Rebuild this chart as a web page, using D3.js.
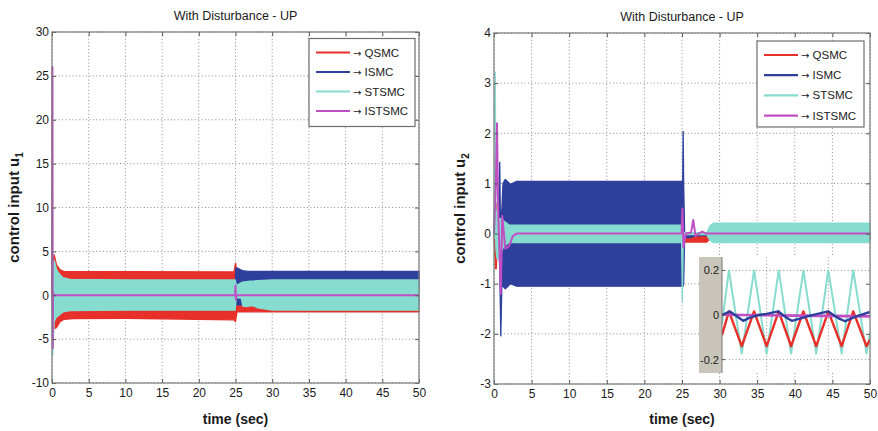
<!DOCTYPE html>
<html>
<head>
<meta charset="utf-8">
<script src="https://cdn.jsdelivr.net/npm/d3@7"></script>
<style>
  body { margin: 0; background: #fff; }
  svg { display: block; font-family: "Liberation Sans", Arial, sans-serif; }
</style>
</head>
<body>
<svg id="chart" width="878" height="431"></svg>
<script>
// ---- series identity ----
const seriesNames  = ["QSMC", "ISMC", "STSMC", "ISTSMC"];
const seriesColors = ["#e8302a", "#2e3f9c", "#86dccf", "#c04fc4"];
const chartTitle   = "With Disturbance - UP";

// ---- tick labels ----
const timeTicks  = [0, 5, 10, 15, 20, 25, 30, 35, 40, 45, 50];
const u1Ticks    = [-10, -5, 0, 5, 10, 15, 20, 25, 30];
const u2Ticks    = [-3, -2, -1, 0, 1, 2, 3, 4];
const insetTicks = [-0.2, 0, 0.2];
const insetGridT = [1.81, 4.31];

// ---- control input u1: chattering envelopes (upper / lower) ----
const u1QsmcT  = [0, 0.15, 0.3, 0.6, 1.1, 1.6, 3, 10, 24.8, 25.0, 25.2, 26, 30, 50];
const u1QsmcHi = [0, 3.8, 4.6, 3.5, 2.9, 2.72, 2.68, 2.68, 2.66, 3.65, 2.6, 2.4, 2.4, 2.4];
const u1QsmcLo = [0, -3.2, -3.8, -3.7, -3.0, -2.75, -2.65, -2.62, -2.8, -3.0, -1.9, -1.88, -1.9, -1.9];

const u1IsmcT  = [0, 0.3, 1, 24.95, 25.05, 25.3, 25.8, 26.0, 26.7, 28, 50];
const u1IsmcHi = [0, 1.2, 1.2, 1.2, 3.1, 3.1, 2.85, 2.8, 2.72, 2.72, 2.72];
const u1IsmcLo = [0, -1.2, -1.2, -1.2, -1.1, -1.1, -1.1, -0.9, -0.9, -0.9, -0.9];

const u1StsmcT  = [0, 0.1, 0.3, 0.6, 0.9, 1.5, 2.5, 10, 24.95, 25.1, 25.3, 25.8, 26.0, 26.5, 27.0, 27.4, 28.0, 30, 35, 50];
const u1StsmcHi = [0, 1.5, 4.0, 3.0, 2.5, 2.0, 1.8, 1.75, 1.74, 1.2, 1.2, 1.45, 1.5, 1.55, 1.6, 1.62, 1.66, 1.74, 1.75, 1.75];
const u1StsmcLo = [0, -6.8, -3.0, -2.5, -2.3, -1.9, -1.75, -1.7, -1.7, -0.3, -0.3, -0.35, -1.25, -1.3, -1.2, -1.18, -1.45, -1.68, -1.7, -1.7];

const u1IstsmcT = [0, 0.06, 0.1, 0.14, 0.3, 24.95, 25.0, 25.05, 25.15, 50];
const u1IstsmcV = [0, 26, -6, 0.3, 0, 0, 1.1, -0.5, 0, 0];

// ---- control input u2 ----
const u2QsmcT  = [0, 0.2, 0.3, 0.4, 0.6, 1.0, 24.9, 25.2, 25.5, 28.3, 28.6, 50];
const u2QsmcHi = [0, 0.6, 0.6, 0.1, 0.15, 0.15, 0.15, 0.0, 0.0, 0.0, 0.02, 0.02];
const u2QsmcLo = [0, -0.7, -0.7, -0.3, -0.15, -0.15, -0.15, -0.17, -0.17, -0.17, -0.12, -0.12];

const u2IsmcT  = [0, 0.4, 0.6, 0.76, 0.85, 0.9, 1.05, 1.2, 1.5, 2.2, 3.0, 24.9, 25.1, 25.15, 25.22, 25.35, 26.0, 27.0, 50];
const u2IsmcHi = [0, 0.1, 0.2, 1.42, 0.3, 0.2, 0.5, 1.0, 1.08, 0.98, 1.04, 1.04, 1.04, 2.04, 1.0, 0.0, 0.0, 0.02, 0.02];
const u2IsmcLo = [0, -0.1, -0.3, -0.6, -1.5, -2.04, -1.0, -1.05, -1.1, -1.0, -1.05, -1.05, -1.05, -1.05, -1.0, -0.08, -0.08, -0.04, -0.04];

const u2StsmcT  = [0, 0.1, 0.17, 0.25, 0.4, 0.6, 0.9, 1.3, 2.0, 24.95, 25.05, 25.15, 25.3, 28.3, 28.7, 29.2, 50];
const u2StsmcHi = [0, 1.5, 3.22, 0.5, 0.3, 0.3, 0.3, 0.25, 0.17, 0.17, 0.17, 0.0, 0.02, 0.02, 0.15, 0.21, 0.21];
const u2StsmcLo = [0, -0.1, 0.5, -0.3, -0.5, -0.5, -0.4, -0.25, -0.18, -0.18, -1.36, -0.3, -0.02, -0.02, -0.13, -0.18, -0.18];

const u2IstsmcT = [0, 0.25, 0.4, 0.55, 0.9, 1.1, 1.5, 2.0, 2.5, 3.0, 24.95, 25.05, 25.2, 25.5, 26.2, 26.5, 26.8, 27.2, 27.7, 28.2, 50];
const u2IstsmcV = [0, 1.0, 2.2, 0.5, -1.2, 0.35, -0.3, -0.25, -0.05, 0, 0, 0.5, -0.27, 0.0, 0.02, 0.27, -0.05, 0.0, 0.04, 0, 0];

// ---- zoomed detail of u2 (steady state) ----
const insetStsmcT = [0, 0.28, 0.8, 1.3, 1.81, 2.3, 2.8, 3.3, 3.82, 4.31, 4.85, 5.32, 5.86, 6.0];
const insetStsmcV = [-0.04, 0.2, -0.173, 0.2, -0.173, 0.2, -0.173, 0.2, -0.173, 0.2, -0.173, 0.2, -0.173, -0.08];
const insetQsmcT  = [0, 0.28, 0.8, 1.3, 1.81, 2.3, 2.8, 3.3, 3.82, 4.31, 4.85, 5.32, 5.86, 6.0];
const insetQsmcV  = [-0.09, 0.016, -0.14, 0.016, -0.14, 0.016, -0.14, 0.016, -0.14, 0.016, -0.14, 0.016, -0.14, -0.11];
const insetIsmcT  = [0, 0.32, 0.6, 0.86, 1.13, 1.47, 1.81, 2.28, 2.62, 2.83, 3.23, 3.57, 4.31, 4.71, 4.99, 5.39, 6.0];
const insetIsmcV  = [0.0, 0.016, -0.006, -0.026, -0.012, 0.0, 0.005, 0.016, -0.012, -0.026, -0.014, -0.003, 0.016, -0.014, -0.028, -0.008, 0.014];
const insetIstsmcT = [0, 3, 6];
const insetIstsmcV = [0.001, -0.003, -0.006];

// ------------------------------------------------------------------
const svg = d3.select("#chart");
const zip3 = (t, hi, lo) => t.map((d, i) => ({ t: d, hi: hi[i], lo: lo[i] }));
const zip2 = (t, v) => t.map((d, i) => ({ t: d, v: v[i] }));

function drawPanel(p) {
  const g = svg.append("g");
  const x = d3.scaleLinear().domain([0, 50]).range([p.x0, p.x1]);
  const y = d3.scaleLinear().domain(p.yDomain).range([p.y1, p.y0]);

  // dotted grid
  const grid = g.append("g").attr("stroke", "#8c8c8c").attr("stroke-width", 1)
    .attr("stroke-dasharray", "1,2.4");
  grid.selectAll(".gx").data(timeTicks).join("line")
    .attr("x1", d => x(d)).attr("x2", d => x(d)).attr("y1", p.y0).attr("y2", p.y1);
  grid.selectAll(".gy").data(p.yTicks).join("line")
    .attr("x1", p.x0).attr("x2", p.x1).attr("y1", d => y(d)).attr("y2", d => y(d));

  // chattering bands
  const area = d3.area().x(d => x(d.t)).y0(d => y(d.lo)).y1(d => y(d.hi));
  p.bands.forEach(b => {
    g.append("path").datum(b.data).attr("d", area)
      .attr("fill", seriesColors[b.s]).attr("stroke", seriesColors[b.s])
      .attr("stroke-width", 1.3).attr("stroke-linejoin", "round");
  });
  // smooth controller trace
  const line = d3.line().x(d => x(d.t)).y(d => y(d.v));
  g.append("path").datum(p.trace).attr("d", line)
    .attr("fill", "none").attr("stroke", seriesColors[3]).attr("stroke-width", 2)
    .attr("stroke-linejoin", "round");

  if (p.inset) p.inset(g);

  // axes with inward ticks on all sides
  const ax = g.append("g").attr("class", "axes");
  const styleAxis = sel => {
    sel.select(".domain").remove();
    sel.selectAll(".tick line").attr("stroke", "#555");
    sel.selectAll(".tick text").attr("fill", "#1a1a1a").attr("font-size", 12)
      .attr("font-family", "Liberation Sans, Arial, sans-serif");
  };
  ax.append("g").attr("transform", `translate(0,${p.y1})`)
    .call(d3.axisBottom(x).tickValues(timeTicks).tickSize(-4).tickPadding(5).tickFormat(d3.format("d")))
    .call(styleAxis);
  ax.append("g").attr("transform", `translate(0,${p.y0})`)
    .call(d3.axisTop(x).tickValues(timeTicks).tickSize(-4).tickFormat(""))
    .call(styleAxis);
  ax.append("g").attr("transform", `translate(${p.x0},0)`)
    .call(d3.axisLeft(y).tickValues(p.yTicks).tickSize(-4).tickPadding(3).tickFormat(d => String(d)))
    .call(styleAxis);
  ax.append("g").attr("transform", `translate(${p.x1},0)`)
    .call(d3.axisRight(y).tickValues(p.yTicks).tickSize(-4).tickFormat(""))
    .call(styleAxis);

  // frame
  g.append("rect").attr("x", p.x0).attr("y", p.y0)
    .attr("width", p.x1 - p.x0).attr("height", p.y1 - p.y0)
    .attr("fill", "none").attr("stroke", "#7a7a7a").attr("stroke-width", 1.2);

  // legend
  const lg = g.append("g").attr("transform", `translate(${p.legend[0]},${p.legend[1]})`);
  lg.append("rect").attr("width", p.legend[2]).attr("height", p.legend[3])
    .attr("fill", "#fff").attr("stroke", "#6f6f6f").attr("stroke-width", 1.2);
  seriesNames.forEach((name, i) => {
    const yy = 14 + i * p.legend[4];
    lg.append("line").attr("x1", 7).attr("x2", 41).attr("y1", yy).attr("y2", yy)
      .attr("stroke", seriesColors[i]).attr("stroke-width", 2.2);
    const t = lg.append("text").attr("x", 44).attr("y", yy + 4).attr("font-size", 11.5)
      .attr("fill", "#1a1a1a");
    t.append("tspan").attr("font-family", "DejaVu Sans, sans-serif").attr("font-size", 10)
      .text("\u2192");
    t.append("tspan").text(" " + name);
  });

  // title and axis labels
  g.append("text").attr("x", (p.x0 + p.x1) / 2).attr("y", p.titleY)
    .attr("text-anchor", "middle").attr("font-size", 12.5).attr("fill", "#1a1a1a")
    .text(chartTitle);
  g.append("text").attr("x", (p.x0 + p.x1) / 2).attr("y", 424)
    .attr("text-anchor", "middle").attr("font-size", 14).attr("font-weight", "bold")
    .attr("fill", "#1a1a1a").text("time (sec)");
  const yl = g.append("text")
    .attr("transform", `translate(${p.ylabelX},${(p.y0 + p.y1) / 2}) rotate(-90)`)
    .attr("text-anchor", "middle").attr("font-size", 15).attr("font-weight", "bold")
    .attr("fill", "#1a1a1a");
  yl.append("tspan").text("control input u");
  yl.append("tspan").attr("dy", 4).attr("font-size", 10).text(p.sub);
}

// ---- left panel: u1 ----
drawPanel({
  x0: 52, x1: 419, y0: 32, y1: 383, yDomain: [-10, 30], yTicks: u1Ticks,
  bands: [
    { s: 0, data: zip3(u1QsmcT, u1QsmcHi, u1QsmcLo) },
    { s: 1, data: zip3(u1IsmcT, u1IsmcHi, u1IsmcLo) },
    { s: 2, data: zip3(u1StsmcT, u1StsmcHi, u1StsmcLo) }
  ],
  trace: zip2(u1IstsmcT, u1IstsmcV),
  legend: [309, 38.5, 106, 88, 19.5],
  titleY: 20, ylabelX: 18.5, sub: "1"
});

// ---- right panel: u2 with zoomed detail ----
drawPanel({
  x0: 494, x1: 870, y0: 33, y1: 384, yDomain: [-3, 4], yTicks: u2Ticks,
  bands: [
    { s: 0, data: zip3(u2QsmcT, u2QsmcHi, u2QsmcLo) },
    { s: 1, data: zip3(u2IsmcT, u2IsmcHi, u2IsmcLo) },
    { s: 2, data: zip3(u2StsmcT, u2StsmcHi, u2StsmcLo) }
  ],
  trace: zip2(u2IstsmcT, u2IstsmcV),
  legend: [757, 41, 107, 86, 20.2],
  titleY: 21, ylabelX: 465, sub: "2",
  inset: g => {
    const ix0 = 722, ix1 = 870, iy0 = 257, iy1 = 373;
    const ix = d3.scaleLinear().domain([0, 6]).range([ix0, ix1]);
    const iy = d3.scaleLinear().domain([-0.26, 0.26]).range([iy1, iy0]);
    const ig = g.append("g");
    ig.append("rect").attr("x", 699).attr("y", iy0).attr("width", ix0 - 699).attr("height", iy1 - iy0)
      .attr("fill", "#c9c5ba");
    ig.append("rect").attr("x", ix0).attr("y", iy0).attr("width", ix1 - ix0).attr("height", iy1 - iy0)
      .attr("fill", "#fff");
    ig.append("clipPath").attr("id", "insetClip").append("rect")
      .attr("x", ix0).attr("y", iy0).attr("width", ix1 - ix0).attr("height", iy1 - iy0);
    const gr = ig.append("g").attr("stroke", "#8c8c8c").attr("stroke-dasharray", "1,2.4");
    gr.selectAll(".h").data(insetTicks).join("line")
      .attr("x1", ix0).attr("x2", ix1).attr("y1", d => iy(d)).attr("y2", d => iy(d));
    gr.selectAll(".v").data(insetGridT).join("line")
      .attr("x1", d => ix(d)).attr("x2", d => ix(d)).attr("y1", iy0).attr("y2", iy1);
    const ln = d3.line().x(d => ix(d.t)).y(d => iy(d.v));
    const lines = ig.append("g").attr("clip-path", "url(#insetClip)");
    [
      { s: 2, d: zip2(insetStsmcT, insetStsmcV), w: 2 },
      { s: 0, d: zip2(insetQsmcT, insetQsmcV), w: 2.4 },
      { s: 3, d: zip2(insetIstsmcT, insetIstsmcV), w: 2.6 },
      { s: 1, d: zip2(insetIsmcT, insetIsmcV), w: 2.4 }
    ].forEach(o => {
      lines.append("path").datum(o.d).attr("d", ln).attr("fill", "none")
        .attr("stroke", seriesColors[o.s]).attr("stroke-width", o.w)
        .attr("stroke-linejoin", "round");
    });
    ig.append("line").attr("x1", ix0).attr("x2", ix0).attr("y1", iy0).attr("y2", iy1)
      .attr("stroke", "#777");
    insetTicks.forEach(v => {
      ig.append("line").attr("x1", ix0).attr("x2", ix0 + 3).attr("y1", iy(v)).attr("y2", iy(v))
        .attr("stroke", "#555");
      ig.append("text").attr("x", ix0 - 3).attr("y", iy(v) + 4).attr("text-anchor", "end")
        .attr("font-size", 11).attr("fill", "#1a1a1a").text(String(v));
    });
  }
});
</script>
</body>
</html>
